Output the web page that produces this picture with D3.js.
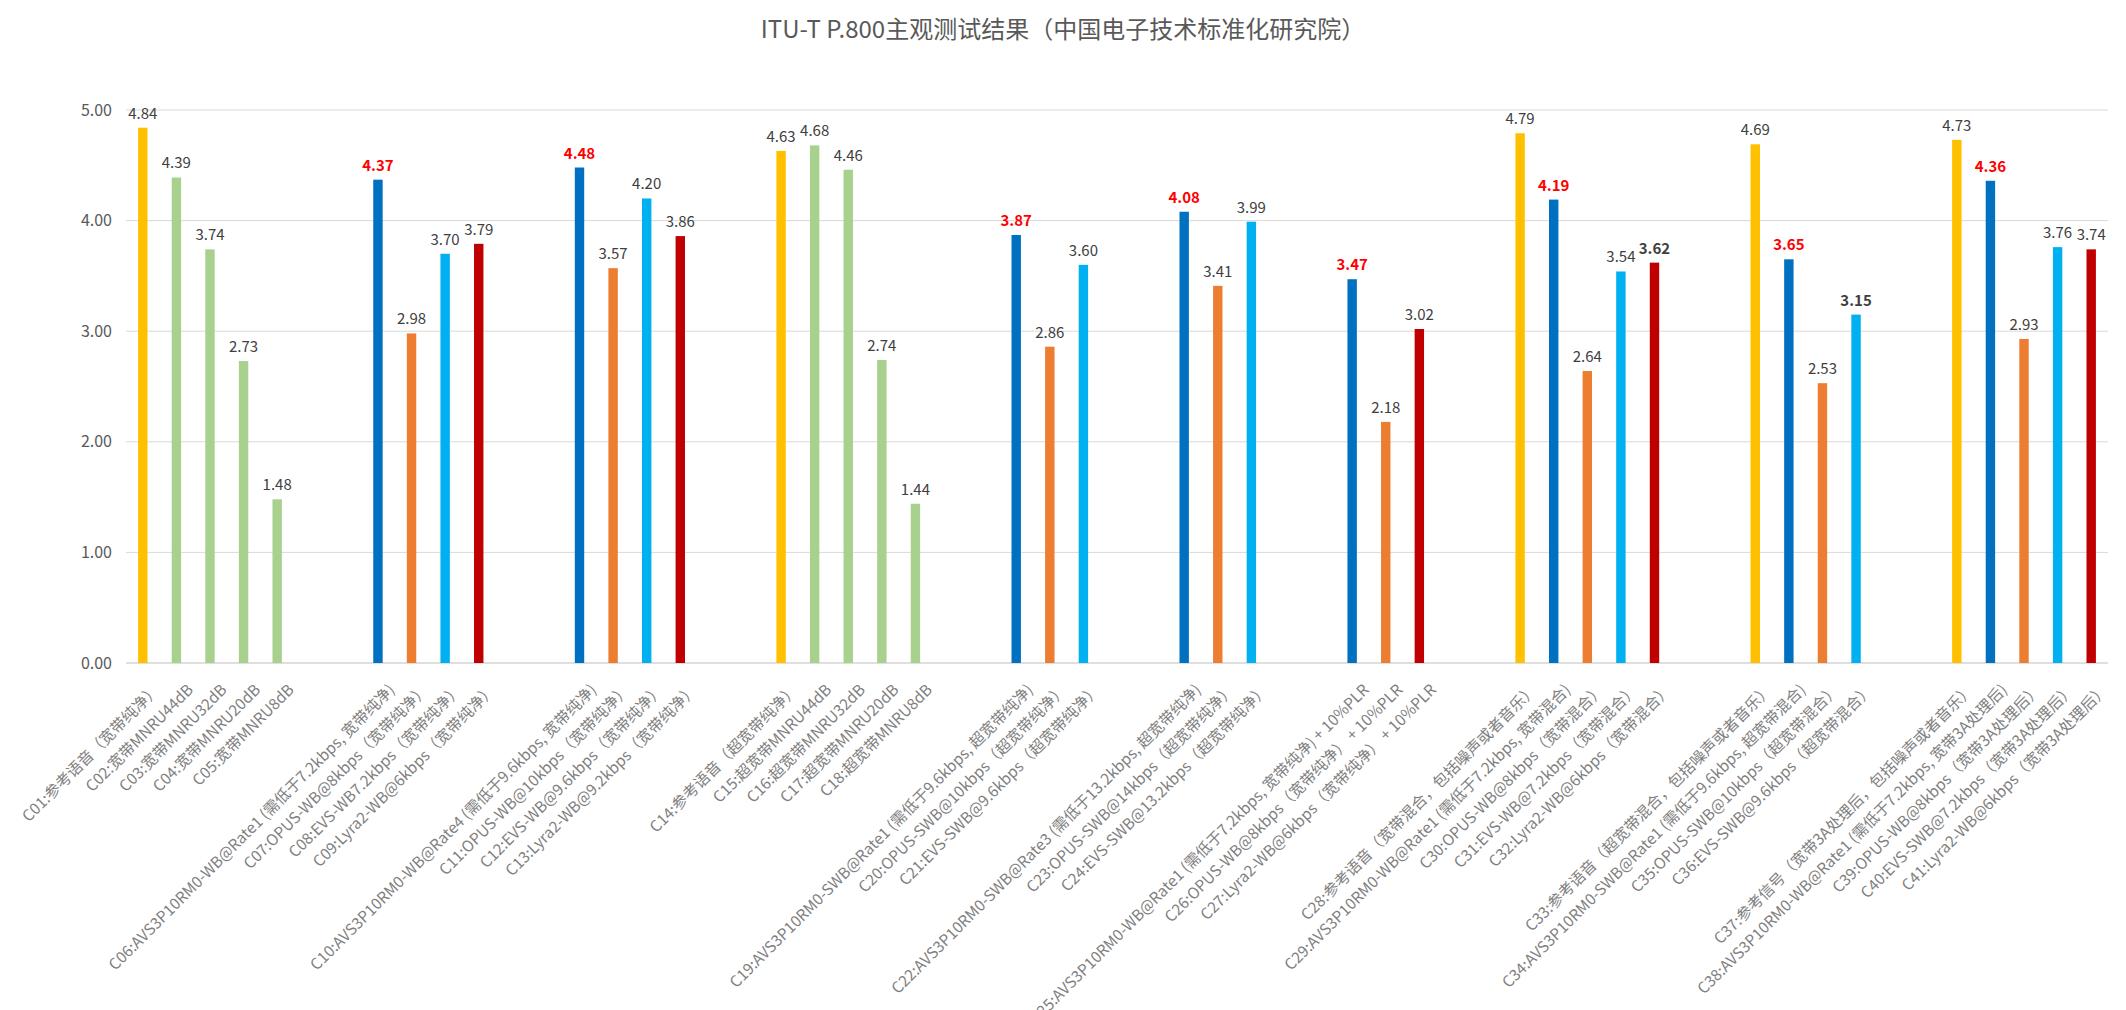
<!DOCTYPE html>
<html><head><meta charset="utf-8">
<script src="https://cdn.jsdelivr.net/npm/d3@7/dist/d3.min.js"></script>
<style>body{margin:0;background:#fff;font-family:"Noto Sans CJK SC","Noto Sans",sans-serif;}</style>
</head><body><svg id="c" width="2126" height="1010"></svg>
<script>
const categories = [
"C01:参考语音（宽带纯净）","C02:宽带MNRU44dB","C03:宽带MNRU32dB","C04:宽带MNRU20dB","C05:宽带MNRU8dB","","",
"C06:AVS3P10RM0-WB@Rate1 (需低于7.2kbps, 宽带纯净)","C07:OPUS-WB@8kbps（宽带纯净）","C08:EVS-WB7.2kbps（宽带纯净）","C09:Lyra2-WB@6kbps（宽带纯净）","","",
"C10:AVS3P10RM0-WB@Rate4 (需低于9.6kbps, 宽带纯净)","C11:OPUS-WB@10kbps（宽带纯净）","C12:EVS-WB@9.6kbps（宽带纯净）","C13:Lyra2-WB@9.2kbps（宽带纯净）","","",
"C14:参考语音（超宽带纯净）","C15:超宽带MNRU44dB","C16:超宽带MNRU32dB","C17:超宽带MNRU20dB","C18:超宽带MNRU8dB","","",
"C19:AVS3P10RM0-SWB@Rate1 (需低于9.6kbps, 超宽带纯净)","C20:OPUS-SWB@10kbps（超宽带纯净）","C21:EVS-SWB@9.6kbps（超宽带纯净）","","",
"C22:AVS3P10RM0-SWB@Rate3 (需低于13.2kbps, 超宽带纯净)","C23:OPUS-SWB@14kbps（超宽带纯净）","C24:EVS-SWB@13.2kbps（超宽带纯净）","","",
"C25:AVS3P10RM0-WB@Rate1 (需低于7.2kbps, 宽带纯净) + 10%PLR","C26:OPUS-WB@8kbps（宽带纯净） + 10%PLR","C27:Lyra2-WB@6kbps（宽带纯净） + 10%PLR","","",
"C28:参考语音（宽带混合，包括噪声或者音乐）","C29:AVS3P10RM0-WB@Rate1 (需低于7.2kbps, 宽带混合)","C30:OPUS-WB@8kbps（宽带混合）","C31:EVS-WB@7.2kbps（宽带混合）","C32:Lyra2-WB@6kbps（宽带混合）","","",
"C33:参考语音（超宽带混合，包括噪声或者音乐）","C34:AVS3P10RM0-SWB@Rate1 (需低于9.6kbps, 超宽带混合)","C35:OPUS-SWB@10kbps（超宽带混合）","C36:EVS-SWB@9.6kbps（超宽带混合）","","",
"C37:参考信号（宽带3A处理后，包括噪声或者音乐）","C38:AVS3P10RM0-WB@Rate1 (需低于7.2kbps, 宽带3A处理后)","C39:OPUS-WB@8kbps（宽带3A处理后）","C40:EVS-SWB@7.2kbps（宽带3A处理后）","C41:Lyra2-WB@6kbps（宽带3A处理后）"];
const values = [4.84,4.39,3.74,2.73,1.48,null,null, 4.37,2.98,3.70,3.79,null,null, 4.48,3.57,4.20,3.86,null,null,
4.63,4.68,4.46,2.74,1.44,null,null, 3.87,2.86,3.60,null,null, 4.08,3.41,3.99,null,null, 3.47,2.18,3.02,null,null,
4.79,4.19,2.64,3.54,3.62,null,null, 4.69,3.65,2.53,3.15,null,null, 4.73,4.36,2.93,3.76,3.74];
const groups = ["r","m","m","m","m","","", "a","o","e","l","","", "a","o","e","l","","",
"r","m","m","m","m","","", "a","o","e","","", "a","o","e","","", "a","o","l","","",
"r","a","o","e","l","","", "r","a","o","e","","", "r","a","o","e","l"];
const labelStyle = ["","","","","","","", "h","","","","","", "h","","","","","",
"","","","","","","", "h","","","","", "h","","","","", "h","","","","",
"","h","","","b","","", "","h","","b","","", "","h","","",""];
const yTicks = [0,1,2,3,4,5];
const colors = {r:"#FFC000",m:"#A9D18E",a:"#0070C0",o:"#ED7D31",e:"#00B0F0",l:"#C00000"};

const svg = d3.select("#c");
const x = d3.scaleBand().domain(d3.range(categories.length)).range([126,2108]).paddingInner(0.72).paddingOuter(0.36);
const y = d3.scaleLinear().domain([0,5]).range([663,110]);

svg.append("text").attr("x",1063).attr("y",38).attr("text-anchor","middle")
  .attr("font-size",24).attr("fill","#595959").text("ITU-T P.800主观测试结果（中国电子技术标准化研究院）");

svg.append("g").selectAll("line").data(yTicks).join("line")
  .attr("x1",126).attr("x2",2108).attr("y1",d=>y(d)).attr("y2",d=>y(d))
  .attr("stroke",d=>d===0?"#bfbfbf":"#d9d9d9").attr("stroke-width",1);
svg.append("g").selectAll("text").data(yTicks).join("text")
  .attr("x",112).attr("y",d=>y(d)).attr("dy","0.35em").attr("text-anchor","end")
  .attr("font-size",16).attr("fill","#595959").text(d=>d.toFixed(2));

const idx = d3.range(categories.length).filter(i=>values[i]!=null);
svg.append("g").selectAll("rect").data(idx).join("rect")
  .attr("x",i=>x(i)).attr("width",x.bandwidth())
  .attr("y",i=>y(values[i])).attr("height",i=>y(0)-y(values[i]))
  .attr("fill",i=>colors[groups[i]]);
svg.append("g").selectAll("text").data(idx).join("text")
  .attr("x",i=>x(i)+x.bandwidth()/2).attr("y",i=>y(values[i])-9)
  .attr("text-anchor","middle").attr("font-size",15)
  .attr("fill",i=>labelStyle[i]==="h"?"#FF0000":"#404040")
  .attr("font-weight",i=>labelStyle[i]?"bold":"normal")
  .text(i=>values[i].toFixed(2));

svg.append("g").selectAll("text").data(idx).join("text")
  .attr("transform",i=>`translate(${x(i)+x.bandwidth()/2+14},${y(0)+24}) rotate(-45)`)
  .attr("text-anchor","end").attr("dy","0.35em").attr("font-size",15.5).attr("fill","#7f7f7f")
  .text(i=>categories[i]);
</script></body></html>
